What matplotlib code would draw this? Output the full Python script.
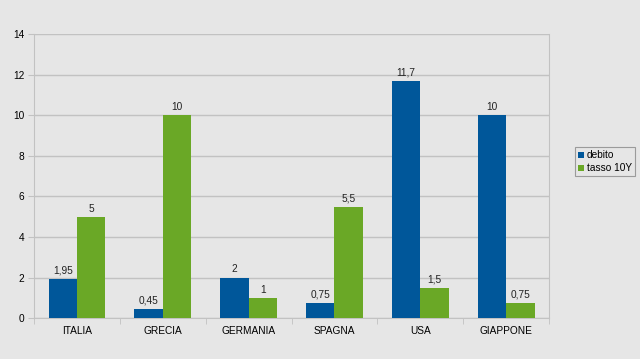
import matplotlib
matplotlib.use("Agg")
import matplotlib.pyplot as plt
import numpy as np

categories = ["ITALIA", "GRECIA", "GERMANIA", "SPAGNA", "USA", "GIAPPONE"]
debito = [1.95, 0.45, 2, 0.75, 11.7, 10]
tasso = [5, 10, 1, 5.5, 1.5, 0.75]
series_names = ["debito", "tasso 10Y"]
yticks = [0, 2, 4, 6, 8, 10, 12, 14]

bg = "#e6e6e6"
c_blue = "#00579a"
c_green = "#6aa826"
gridc = "#c2c2c2"

fig = plt.figure(figsize=(6.4, 3.59), dpi=100, facecolor=bg)
ax = fig.add_axes([0.053, 0.114, 0.805, 0.791], facecolor=bg)

x = np.arange(len(categories))
w = 0.33
b1 = ax.bar(x - w/2, debito, w, color=c_blue, label=series_names[0], zorder=3)
b2 = ax.bar(x + w/2, tasso, w, color=c_green, label=series_names[1], zorder=3)

def fmt(v):
    return ("%g" % v).replace(".", ",")

for rects, vals in ((b1, debito), (b2, tasso)):
    for r, v in zip(rects, vals):
        ax.text(r.get_x() + r.get_width()/2, v + 0.15, fmt(v), ha="center", va="bottom",
                fontsize=7.3, color="#222222", family="Liberation Sans")

ax.set_xlim(-0.5, len(categories) - 0.5)
ax.set_ylim(0, 14)
ax.set_yticks(yticks)
ax.set_yticklabels([str(t) for t in yticks], fontsize=7.3, family="Liberation Sans")
ax.set_xticks(x)
ax.set_xticklabels(categories, fontsize=7.3, family="Liberation Sans")
ax.tick_params(axis="x", length=0, pad=6)
ax.set_xticks(np.arange(-0.5, len(categories), 1), minor=True)
ax.tick_params(axis="x", which="minor", length=4, color=gridc)
ax.tick_params(axis="y", length=4, color=gridc, pad=3)
ax.yaxis.grid(True, color=gridc, linewidth=1, zorder=0)
ax.set_axisbelow(True)
ax.spines["top"].set_visible(False)
for s in ["left", "bottom", "right"]:
    ax.spines[s].set_color(gridc)

leg = ax.legend(loc="center left", bbox_to_anchor=(1.04, 0.55),
                frameon=True, fancybox=False, edgecolor="#888888", facecolor=bg,
                handlelength=0.6, handleheight=0.6, handletextpad=0.3,
                borderpad=0.3, labelspacing=0.3, prop={"family": "Liberation Sans", "size": 7.3})
leg.get_frame().set_linewidth(0.8)

fig.savefig("out.png", dpi=100, facecolor=bg)
